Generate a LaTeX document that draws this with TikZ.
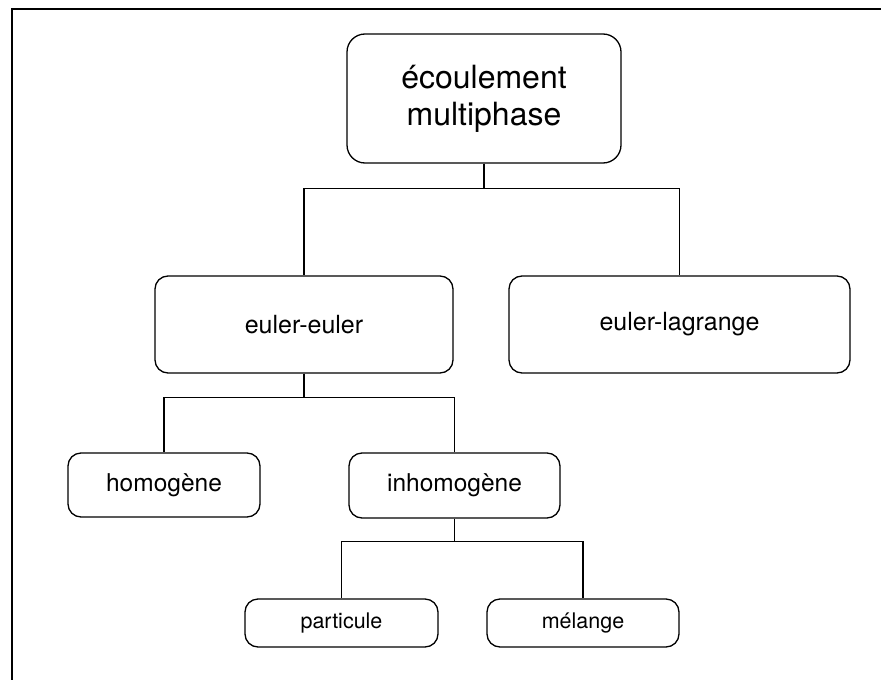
\documentclass[tikz,border=0pt]{standalone}
\usepackage{fontspec}
\setmainfont{TeX Gyre Heros}
\tikzset{
  box/.style={draw, line width=1.3pt, rounded corners=13pt, align=center, inner sep=0pt},
  link/.style={line width=1.2pt},
}
\begin{document}
\begin{tikzpicture}[x=1pt,y=-1pt]
  \useasboundingbox (0,0) rectangle (881,680);
  % Frame
  \draw [line width=2.8pt] (12,680) -- (12,9) -- (881,9);

  % Boxes
  \node [box, rounded corners=18pt, minimum width=274pt, minimum height=129pt,
         font=\fontsize{32}{37}\selectfont] (flow) at (484,98.5) {écoulement\\multiphase};
  \node [box, minimum width=298pt, minimum height=97pt,
         font=\fontsize{25}{30}\selectfont] (ee) at (304,324.5) {euler-euler};
  \node [box, minimum width=341pt, minimum height=97pt,
         font=\fontsize{25}{30}\selectfont] (el) at (679.5,324.5) {euler-lagrange};
  \node [box, minimum width=192pt, minimum height=64pt,
         font=\fontsize{24.5}{29}\selectfont] (homo) at (164,485) {homogène};
  \node [box, minimum width=211pt, minimum height=65pt,
         font=\fontsize{24.5}{29}\selectfont] (inhomo) at (454.5,485.5) {inhomogène};
  \node [box, minimum width=193pt, minimum height=48pt,
         font=\fontsize{21.5}{26}\selectfont] (part) at (341.5,623) {particule};
  \node [box, minimum width=192pt, minimum height=48pt,
         font=\fontsize{21.5}{26}\selectfont] (mix) at (583,623) {mélange};

  % Links
  \draw [link] (flow.south) -- ++(0,25) -| (ee.north);
  \draw [link] (flow.south) -- ++(0,25) -| (el.north);
  \draw [link] (ee.south) -- ++(0,24) -| (homo.north);
  \draw [link] (ee.south) -- ++(0,24) -| (inhomo.north);
  \draw [link] (inhomo.south) -- ++(0,23) -| (part.north);
  \draw [link] (inhomo.south) -- ++(0,23) -| (mix.north);
\end{tikzpicture}
\end{document}
